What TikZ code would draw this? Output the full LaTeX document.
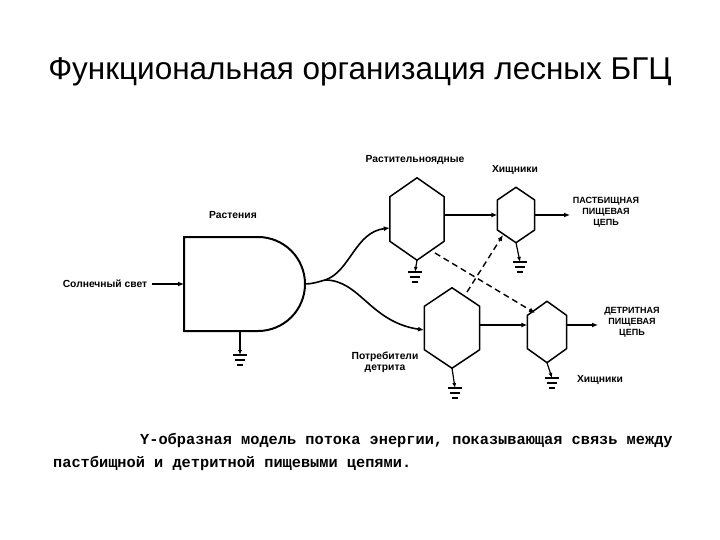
\documentclass[tikz,border=0pt]{standalone}
\usepackage{fontspec}
\setmainfont{Liberation Sans}
\newfontfamily\capfont{Liberation Mono}
\usetikzlibrary{calc,arrows.meta}
\tikzset{
  box/.style={draw=none,inner sep=0pt},
  flow/.style={line width=1.6pt,-{Latex[length=6pt,width=5pt]}},
  dflow/.style={line width=1.4pt,dashed,dash pattern=on 6pt off 4pt,-{Latex[length=6pt,width=5pt]}},
  gline/.style={line width=1.2pt,-{Latex[length=5pt,width=4pt]}},
  lbl/.style={font=\bfseries\fontsize{10.3}{11}\selectfont,align=center,inner sep=0pt},
  clbl/.style={lbl,font=\bfseries\fontsize{9}{11}\selectfont},
  hexline/.style={line width=1.5pt,line join=round}
}
\newcommand\hexdraw[1]{\draw[hexline] (#1.north) -- ($(#1.north east)!0.23!(#1.south east)$) -- ($(#1.north east)!0.77!(#1.south east)$) -- (#1.south) -- ($(#1.north west)!0.77!(#1.south west)$) -- ($(#1.north west)!0.23!(#1.south west)$) -- cycle;}
\newcommand\gndbars[1]{\draw[line width=1.2pt] ($(#1)+(-7,0)$) -- ($(#1)+(7,0)$) ($(#1)+(-5,5)$) -- ($(#1)+(5,5)$) ($(#1)+(-3,10)$) -- ($(#1)+(3,10)$);}
\begin{document}
\begin{tikzpicture}[x=1pt,y=-1pt]
\useasboundingbox (0,0) rectangle (720,540);
\node[inner sep=0pt,font=\fontsize{31.5}{36}\selectfont] (title) at (360,72) {Функциональная организация лесных БГЦ};
% plants
\draw[line width=2pt] (258,237) -- (184,237) -- (184,331) -- (258,331) arc[start angle=90,end angle=-90,radius=47];
\coordinate (plR) at (305,284);
\coordinate (plL) at (184,284);
\node[lbl] (plants) at (233,215) {Растения};
\node[lbl] (sun) at (105,284) {Солнечный свет};
\draw[flow] (sun.east)+(5,0) -- (plL);
% hexagons
\node[box,minimum width=54pt,minimum height=82pt] (herb) at (417,219) {};
\node[box,minimum width=37pt,minimum height=55pt] (car1) at (516,215) {};
\node[box,minimum width=55pt,minimum height=80pt] (detr) at (452,328) {};
\node[box,minimum width=39pt,minimum height=61pt] (car2) at (547,332) {};
\hexdraw{herb}\hexdraw{car1}\hexdraw{detr}\hexdraw{car2}
% curves
\coordinate (split) at (325,280);
\draw[line width=1.6pt] (plR) .. controls (312,284) and (318,282) .. (split);
\draw[flow] (split) .. controls (350,272) and (355,232) .. (herb.west|-0,228);
\draw[flow] (split) .. controls (360,280) and (370,322) .. (424,330);
% straight flows
\draw[flow] (herb.east|-0,215) -- (car1.west|-0,215);
\coordinate (out1) at (570,215);
\draw[flow] (car1.east|-0,215) -- (out1);
\draw[flow] (detr.east|-0,325) -- (car2.west|-0,325);
\coordinate (out2) at (598,325);
\draw[flow] (car2.east|-0,325) -- (out2);
% dashed
\draw[dflow] (435,253) -- (535,313);
\draw[dflow] (467,292) -- (503,235);
% grounds
\coordinate (g0) at (240,355); \draw[gline] (240,332) -- (g0); \gndbars{g0}
\coordinate (g1) at (415,272); \draw[gline] (herb.south) -- (g1); \gndbars{g1}
\coordinate (g2) at (520,262); \draw[gline] (car1.south) -- (g2); \gndbars{g2}
\coordinate (g3) at (455,388); \draw[gline] (detr.south) -- (g3); \gndbars{g3}
\coordinate (g4) at (552,378); \draw[gline] (car2.south) -- (g4); \gndbars{g4}
% labels
\node[lbl] (lherb) at (415,160) {Растительноядные};
\node[lbl] (lcar1) at (515,170) {Хищники};
\node[clbl] (past) at (606,212) {ПАСТБИЩНАЯ\\ПИЩЕВАЯ\\ЦЕПЬ};
\node[clbl] (detc) at (632,322) {ДЕТРИТНАЯ\\ПИЩЕВАЯ\\ЦЕПЬ};
\node[lbl] (ldetr) at (385,362) {Потребители\\детрита};
\node[lbl] (lcar2) at (600,380) {Хищники};
% caption
\node[anchor=west,inner sep=0pt,font=\capfont\bfseries\fontsize{15.3}{17}\selectfont] (cap1) at (140,440) {Y-образная модель потока энергии, показывающая связь между};
\node[anchor=west,inner sep=0pt,font=\capfont\bfseries\fontsize{15.3}{17}\selectfont] (cap2) at (53,463) {пастбищной и детритной пищевыми цепями.};
\end{tikzpicture}
\end{document}
